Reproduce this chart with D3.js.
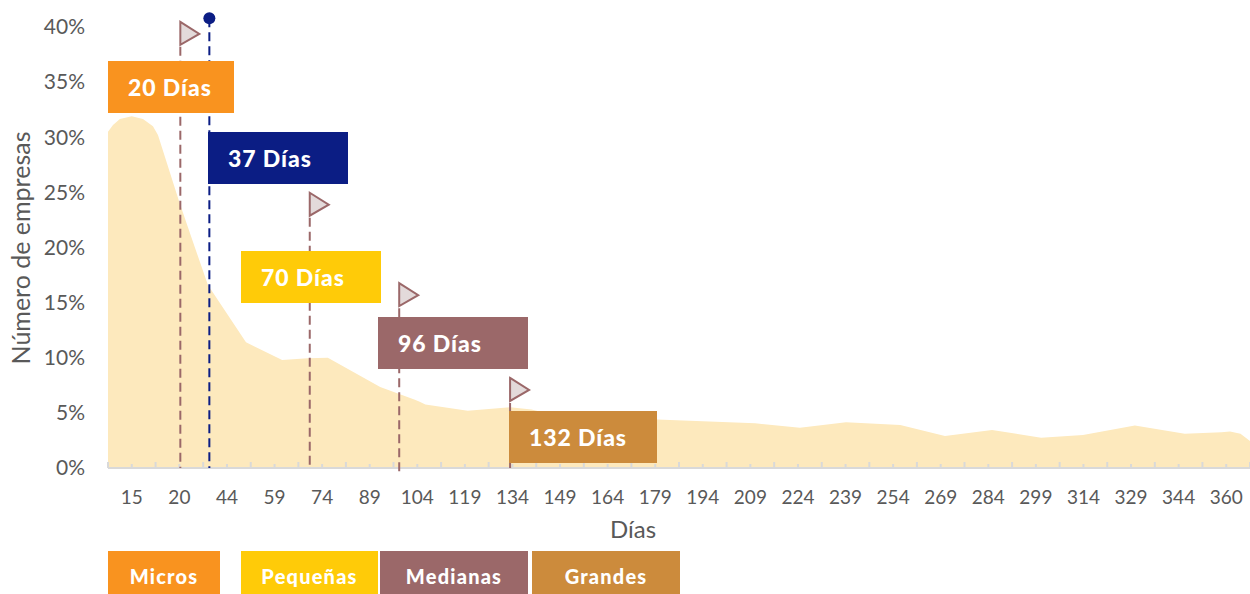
<!DOCTYPE html>
<html>
<head>
<meta charset="utf-8">
<script src="https://cdnjs.cloudflare.com/ajax/libs/d3/7.8.5/d3.min.js"></script>
<style>
	body { margin: 0; background: #fff; }
	svg { display: block; }
	text { font-family: Lato, "Open Sans", sans-serif; }
</style>
</head>
<body>
<div class="chart"></div>
<script>
var dayLabels = ['15', '20', '44', '59', '74', '89', '104', '119', '134', '149', '164', '179',
	'194', '209', '224', '239', '254', '269', '284', '299', '314', '329', '344', '360'];
var yTicks = [0, 5, 10, 15, 20, 25, 30, 35, 40];

// where the curve was read, in category widths from the left end of the axis
var curveAt = [0, 0.105, 0.25, 0.5, 0.735, 0.945, 1.05, 1.5, 1.77, 2.1, 2.9, 3.66, 4.2, 4.62, 5.72, 6.45,
	6.55, 6.67, 7.56, 8.45, 8.9, 9.2, 11.54, 13.6, 14.54, 15.51, 16.65, 17.59, 18.58, 19.61, 20.49,
	21.58, 22.63, 23.4, 23.58, 23.8, 24];
var curvePct = [30.5, 31.1, 31.65, 31.9, 31.65, 31, 30.2, 24.1, 20.7, 16.6, 11.4, 9.8, 9.95, 10, 7.35, 6.2,
	6, 5.75, 5.2, 5.5, 5.3, 5, 4.4, 4.05, 3.65, 4.15, 3.9, 2.9, 3.45, 2.75, 3,
	3.85, 3.1, 3.25, 3.3, 3.1, 2.45];

var sizeLabels = ['20 Días', '37 Días', '70 Días', '96 Días', '132 Días'];
var sizeAt = [1.52, 2.13, 4.24, 6.12, 8.45];
var poleTop = [38.2, 40.8, 22.7, 14.5, 5.9];

var legendLabels = ['Micros', 'Pequeñas', 'Medianas', 'Grandes'];

var orange = '#f9931f', navy = '#0b1d84', yellow = '#ffcb08', rose = '#9b6869', ochre = '#cc8b3c';
var gray = '#595959';

var w = 1250, h = 594;
var left = 108, right = 1250, zero = 468, top40 = 27;

var svg = d3.select('.chart').append('svg').attr('width', w).attr('height', h);

var xBand = d3.scaleBand().domain(dayLabels).range([left, right]);
var xPos = d3.scaleLinear().domain([0, dayLabels.length]).range([left, right]);
var y = d3.scaleLinear().domain([0, 40]).range([zero, top40]);

// area
var area = d3.area()
	.x(function(d) { return xPos(d); })
	.y0(zero)
	.y1(function(d, i) { return y(curvePct[i]); })
	.curve(d3.curveLinear);

svg.append('path').datum(curveAt).attr('d', area).attr('fill', '#fde9bd');

// y axis labels
svg.selectAll('.ylab').data(yTicks).enter().append('text')
	.attr('class', 'ylab')
	.attr('x', 85)
	.attr('y', function(d) { return y(d); })
	.attr('dy', '0.35em')
	.attr('text-anchor', 'end')
	.attr('font-size', 21)
	.attr('fill', gray)
	.text(function(d) { return d + '%'; });

// x axis: long ticks between the categories, short ones on them
var xAxis = d3.axisBottom(xBand).tickSize(0).tickPadding(20);
var gx = svg.append('g').attr('transform', 'translate(0,' + zero + ')').call(xAxis);
gx.select('.domain').remove();
gx.selectAll('text').attr('font-size', 19).attr('fill', gray).attr('font-family', 'Lato').attr('dy', '0.85em');

d3.range(0, dayLabels.length * 2 + 1).forEach(function(i) {
	svg.append('line')
		.attr('x1', xPos(i / 2)).attr('x2', xPos(i / 2))
		.attr('y1', zero - (i % 2 ? 4 : 6)).attr('y2', zero)
		.attr('stroke', '#d9d9d9').attr('stroke-width', 2);
});
svg.append('line').attr('x1', left).attr('x2', right).attr('y1', zero).attr('y2', zero)
	.attr('stroke', '#d9d9d9').attr('stroke-width', 2);

// axis titles
svg.append('text').attr('x', 633).attr('y', 538).attr('text-anchor', 'middle')
	.attr('font-size', 24).attr('fill', gray).text('Días');
svg.append('text').attr('transform', 'translate(30,248) rotate(-90)').attr('text-anchor', 'middle')
	.attr('font-size', 25).attr('fill', gray).text('Número de empresas');

// poles and flags
sizeAt.forEach(function(d, i) {
	var px = xPos(d);
	var lineColor = i == 1 ? navy : rose;
	svg.append('line')
		.attr('x1', px).attr('x2', px)
		.attr('y1', y(poleTop[i]))
		.attr('y2', i == 3 ? zero + 4 : zero)
		.attr('stroke', lineColor)
		.attr('stroke-width', 2)
		.attr('stroke-dasharray', '9,5');

	if (i == 1) {
		svg.append('circle').attr('cx', px).attr('cy', y(poleTop[i])).attr('r', 6).attr('fill', navy);
	} else {
		var f = y(poleTop[i]) - 25;
		svg.append('path')
			.attr('d', 'M' + px + ',' + f + 'L' + (px + 19) + ',' + (f + 12) + 'L' + px + ',' + (f + 23) + 'Z')
			.attr('fill', '#e3dada')
			.attr('stroke', rose)
			.attr('stroke-width', 2);
	}
});

// label boxes
var boxX = [108, 208, 241, 378, 509];
var boxY = [61, 132, 251, 317, 411];
var boxW = [126, 140, 140, 150, 148];
var boxC = [orange, navy, yellow, rose, ochre];

sizeLabels.forEach(function(d, i) {
	svg.append('rect').attr('x', boxX[i]).attr('y', boxY[i]).attr('width', boxW[i]).attr('height', 52)
		.attr('fill', boxC[i]);
	svg.append('text').attr('x', boxX[i] + 20).attr('y', boxY[i] + 27).attr('dy', '0.35em')
		.attr('font-size', 23).attr('font-weight', 900).attr('letter-spacing', 0.9)
		.attr('fill', '#fff').text(d);
});

// legend strip
var legX = [108, 241, 380, 532];
var legW = [112, 137, 148, 148];
var legC = [orange, yellow, rose, ochre];

legendLabels.forEach(function(d, i) {
	svg.append('rect').attr('x', legX[i]).attr('y', 551).attr('width', legW[i]).attr('height', 43)
		.attr('fill', legC[i]);
	svg.append('text').attr('x', legX[i] + legW[i] / 2).attr('y', 584).attr('text-anchor', 'middle')
		.attr('font-size', 20).attr('font-weight', 900).attr('letter-spacing', 1.2)
		.attr('fill', '#fff').text(d);
});
</script>
</body>
</html>
